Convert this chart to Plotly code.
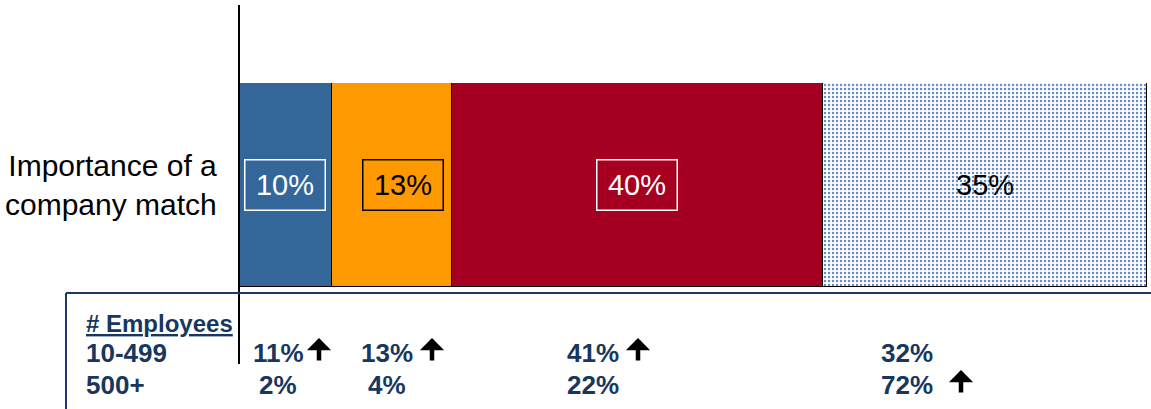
import plotly.graph_objects as go

# ---- data ----
category = ["Importance of a<br>company match"]
segment_names = ["Very important", "Somewhat important", "Important", "Not important"]
segment_values = [10, 13, 40, 35]
segment_colors = ["#336699", "#FF9900", "#A50021", "#FFFFFF"]
label_colors = ["white", "black", "white", "black"]
label_boxed = [True, True, True, False]

group_labels = ["10-499", "500+"]
group_small = [11, 13, 41, 32]      # 10-499 employees
group_large = [2, 4, 22, 72]        # 500+ employees
small_up = [True, True, True, False]
large_up = [False, False, False, True]

W, H = 1151, 409
L, R, T, B = 239, 4, 83, 122
PW, PH = W - L - R, H - T - B

def px(x):
    return (x - L) / PW

def py(y):
    return (H - B - y) / PH

TXT_BLUE = "#17375E"
FONT = "Liberation Sans, Arial, sans-serif"

fig = go.Figure()
for i, (name, v, c) in enumerate(zip(segment_names, segment_values, segment_colors)):
    marker = dict(color=c, line=dict(color="black", width=1.5))
    if i == 3:
        marker["pattern"] = dict(shape=".", fgcolor="#6a8fc4", bgcolor="#FFFFFF",
                                 size=4, solidity=0.3, fillmode="replace")
    fig.add_trace(go.Bar(x=[v], y=[0], orientation="h", name=name,
                         marker=marker, width=1, showlegend=False,
                         hoverinfo="x+name"))

total = sum(segment_values)
annotations = []
cum = 0
for i, v in enumerate(segment_values):
    center = cum + v / 2
    a = dict(x=center, y=0, xref="x", yref="y", text=f"{v}%", showarrow=False,
             font=dict(family=FONT, size=29, color=label_colors[i]))
    if label_boxed[i]:
        a.update(bordercolor=label_colors[i], borderwidth=1.5, borderpad=0,
                 width=79, height=49)
    if i == 1:
        a["xshift"] = 11
    annotations.append(a)
    cum += v

# category label
annotations.append(dict(x=px(219), y=py(185), xref="paper", yref="paper",
                        text=category[0], showarrow=False, xanchor="right",
                        yanchor="middle", align="right",
                        font=dict(family=FONT, size=30, color="black")))

# table
annotations.append(dict(x=px(84), y=py(323), xref="paper", yref="paper",
                        text="<b># Employees</b>", showarrow=False,
                        xanchor="left", yanchor="middle",
                        font=dict(family=FONT, size=24, color=TXT_BLUE,
                                  lineposition="under")))
row_y = [353, 385]
for r, lab in enumerate(group_labels):
    annotations.append(dict(x=px(84), y=py(row_y[r]), xref="paper", yref="paper",
                            text=f"<b>{lab}</b>", showarrow=False,
                            xanchor="left", yanchor="middle",
                            font=dict(family=FONT, size=26, color=TXT_BLUE)))

col_x_small = [251, 359, 565, 879]
col_x_large = [257, 366, 565, 879]
arrow_x_small = [319, 432, 638, 0]
arrow_x_large = [0, 0, 0, 961]
for j in range(4):
    annotations.append(dict(x=px(col_x_small[j]), y=py(row_y[0]), xref="paper", yref="paper",
                            text=f"<b>{group_small[j]}%</b>", showarrow=False,
                            xanchor="left", yanchor="middle",
                            font=dict(family=FONT, size=26, color=TXT_BLUE)))
    annotations.append(dict(x=px(col_x_large[j]), y=py(row_y[1]), xref="paper", yref="paper",
                            text=f"<b>{group_large[j]}%</b>", showarrow=False,
                            xanchor="left", yanchor="middle",
                            font=dict(family=FONT, size=26, color=TXT_BLUE)))
    for up, ax_, ry in ((small_up[j], arrow_x_small[j], row_y[0]),
                        (large_up[j], arrow_x_large[j], row_y[1])):
        if up:
            annotations.append(dict(x=px(ax_), y=py(ry - 15), xref="paper", yref="paper",
                                    ax=0, ay=24, text="", showarrow=True,
                                    arrowhead=1, arrowsize=0.9, arrowwidth=4.5,
                                    arrowcolor="black"))

shapes = [
    # vertical axis line
    dict(type="line", xref="paper", yref="paper", x0=px(239), x1=px(239),
         y0=py(5), y1=py(364), line=dict(color="black", width=2)),
    # table frame
    dict(type="line", xref="paper", yref="paper", x0=px(66), x1=px(1152),
         y0=py(293), y1=py(293), line=dict(color="#1F3864", width=2)),
    dict(type="line", xref="paper", yref="paper", x0=px(66), x1=px(66),
         y0=py(293), y1=py(410), line=dict(color="#1F3864", width=2)),
]

fig.update_layout(
    width=W, height=H,
    margin=dict(l=L, r=R, t=T, b=B, pad=0),
    barmode="stack", bargap=0,
    plot_bgcolor="white", paper_bgcolor="white",
    xaxis=dict(range=[0, total], visible=False, fixedrange=True),
    yaxis=dict(range=[-0.5, 0.5], visible=False, fixedrange=True),
    annotations=annotations, shapes=shapes,
    font=dict(family=FONT),
)

fig.write_html("out.html")
